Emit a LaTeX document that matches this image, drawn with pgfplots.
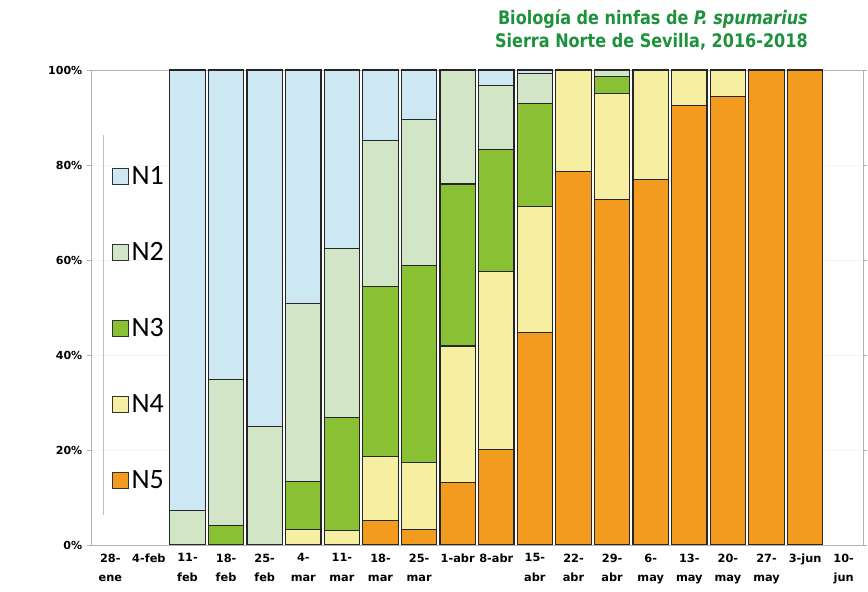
\documentclass[border=0pt]{standalone}
\usepackage{pgfplots}
\pgfplotsset{compat=1.18}
\usepackage{pgfplotstable}
\usepackage{fontspec}
\setmainfont{DejaVu Sans}
\newfontfamily\legfont{Carlito}
\newfontfamily\titlefont[FakeStretch=0.86]{DejaVu Sans}
\definecolor{cN1}{RGB}{205,232,242}
\definecolor{cN2}{RGB}{210,229,198}
\definecolor{cN3}{RGB}{137,192,52}
\definecolor{cN4}{RGB}{246,238,160}
\definecolor{cN5}{RGB}{243,155,30}
\definecolor{titlegreen}{RGB}{30,145,60}
\pgfplotstableread{
idx N5 N4 N3 N2 N1
2 0 0 0 7.2 92.8
3 0 0 4.1 30.8 65.1
4 0 0 0 25.0 75.0
5 0 3.3 10.0 37.6 49.1
6 0 3.0 23.8 35.6 37.6
7 5.1 13.6 35.8 30.6 14.9
8 3.3 14.0 41.6 30.6 10.5
9 13.1 28.8 34.1 24.0 0
10 20.1 37.4 25.7 13.6 3.2
11 44.7 26.5 21.8 6.3 0.7
12 78.6 21.4 0 0 0
13 72.8 22.3 3.6 1.3 0
14 77.0 23.0 0 0 0
15 92.6 7.4 0 0 0
16 94.5 5.5 0 0 0
17 100 0 0 0 0
18 100 0 0 0 0
}\data
\pgfplotsset{
  sqleg/.style={legend image code/.code={\draw[##1,draw=black!80,line width=0.6pt] (0pt,-6pt) rectangle (12pt,6pt);}},
}
\begin{document}
\begin{tikzpicture}
\useasboundingbox (0,0) rectangle (651pt,444pt);
\begin{axis}[
  at={(68.25pt,35.25pt)}, anchor=south west,
  scale only axis, width=579pt, height=356.25pt,
  ybar stacked, bar width=0.92,
  xmin=-0.5, xmax=19.5, ymin=0, ymax=100,
  xtick={0,...,19},
  xticklabels={{28-\\ene},{4-feb},{11-\\feb},{18-\\feb},{25-\\feb},{4-\\mar},{11-\\mar},{18-\\mar},{25-\\mar},{1-abr},{8-abr},{15-\\abr},{22-\\abr},{29-\\abr},{6-\\may},{13-\\may},{20-\\may},{27-\\may},{3-jun},{10-\\jun}},
  xticklabel style={align=center, font=\fontsize{8.5}{14.5}\selectfont\bfseries},
  x tick style={draw=none},
  ytick={0,20,...,100},
  yticklabel={\pgfmathprintnumber{\tick}\%},
  yticklabel style={font=\fontsize{8.3}{10}\selectfont\bfseries},
  /pgf/number format/assume math mode=true,
  ymajorgrids, grid style={gray!8},
  axis line style={gray!60},
  tick align=outside, major tick length=3pt, y tick style={gray!60},
  reverse legend,
  legend style={draw=none, fill=none, at={(rel axis cs:0.027,0.804)}, anchor=north west,
    font=\legfont\fontsize{21}{21}\selectfont, row sep=38pt, inner sep=0pt,
    cells={anchor=west}},
]
\addplot[fill=cN5, draw=black!85, line width=0.9pt, sqleg] table[x=idx, y=N5] {\data};
\addplot[fill=cN4, draw=black!85, line width=0.9pt, sqleg] table[x=idx, y=N4] {\data};
\addplot[fill=cN3, draw=black!85, line width=0.9pt, sqleg] table[x=idx, y=N3] {\data};
\addplot[fill=cN2, draw=black!85, line width=0.9pt, sqleg] table[x=idx, y=N2] {\data};
\addplot[fill=cN1, draw=black!85, line width=0.9pt, sqleg] table[x=idx, y=N1] {\data};
\legend{N5,N4,N3,N2,N1}
\draw[gray!50] (rel axis cs:0.0155,0.063) -- (rel axis cs:0.0155,0.863);
\end{axis}
\node[anchor=north east, align=right, inner sep=0pt, text=titlegreen,
  font=\titlefont\bfseries\fontsize{14}{17}\selectfont] at (606pt,437pt)
  {Biología de ninfas de \textit{P. spumarius}\\Sierra Norte de Sevilla, 2016-2018};
\end{tikzpicture}
\end{document}
